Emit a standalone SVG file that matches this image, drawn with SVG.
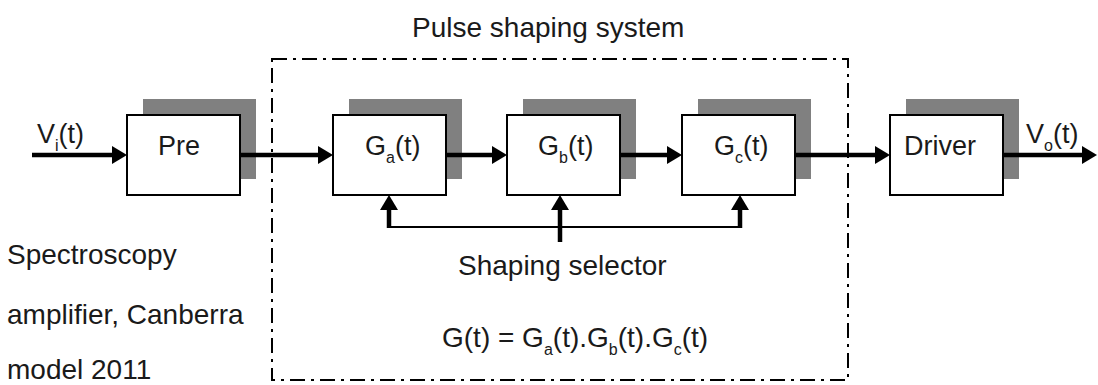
<svg xmlns="http://www.w3.org/2000/svg" width="1098" height="385" viewBox="0 0 1098 385">
<style>
text{font-family:"Liberation Sans",Arial,sans-serif;fill:#1a1a1a}
.lbl{font-size:27px}
.big{font-size:28px}
.sub{font-size:16px}
.box{fill:#fff;stroke:#000;stroke-width:2}
.sh{fill:#808080}
.ar{stroke:#000;stroke-width:4.5;fill:none}
.thin{stroke:#000;stroke-width:2;fill:none}
.dash{fill:none;stroke:#000;stroke-width:2;stroke-dasharray:15 6 3 6}
</style>
<defs>
<marker id="ah" viewBox="0 0 15 18" refX="1" refY="9" markerWidth="15" markerHeight="18" markerUnits="userSpaceOnUse" orient="auto">
<path d="M0,0 L15,9 L0,18 z" fill="#000"/>
</marker>
</defs>
<rect width="1098" height="385" fill="#fff"/>
<g id="system">
<rect class="dash" x="272" y="59" width="576" height="321"/>
<text class="big" x="412" y="37">Pulse shaping system</text>
</g>
<g id="pre">
<rect class="sh" x="143" y="99" width="113" height="80"/>
<rect class="box" x="127" y="115" width="113" height="80"/>
<text class="lbl" x="158" y="155">Pre</text>
</g>
<g id="ga">
<rect class="sh" x="349" y="99" width="113" height="80"/>
<rect class="box" x="333" y="115" width="113" height="80"/>
<text class="lbl" x="365" y="155">G<tspan class="sub" dy="8">a</tspan><tspan dy="-8">(t)</tspan></text>
</g>
<g id="gb">
<rect class="sh" x="523" y="99" width="113" height="80"/>
<rect class="box" x="507" y="115" width="113" height="80"/>
<text class="lbl" x="538" y="155">G<tspan class="sub" dy="8">b</tspan><tspan dy="-8">(t)</tspan></text>
</g>
<g id="gc">
<rect class="sh" x="698" y="99" width="113" height="80"/>
<rect class="box" x="682" y="115" width="113" height="80"/>
<text class="lbl" x="714" y="155">G<tspan class="sub" dy="8">c</tspan><tspan dy="-8">(t)</tspan></text>
</g>
<g id="driver">
<rect class="sh" x="906" y="99" width="113" height="80"/>
<rect class="box" x="890" y="115" width="113" height="80"/>
<text class="lbl" x="904" y="155">Driver</text>
</g>
<g id="connectors">
<line class="ar" x1="32" y1="155" x2="113" y2="155" marker-end="url(#ah)"/>
<line class="ar" x1="240" y1="155" x2="319" y2="155" marker-end="url(#ah)"/>
<line class="ar" x1="446" y1="155" x2="493" y2="155" marker-end="url(#ah)"/>
<line class="ar" x1="620" y1="155" x2="668" y2="155" marker-end="url(#ah)"/>
<line class="ar" x1="795" y1="155" x2="876" y2="155" marker-end="url(#ah)"/>
<line class="ar" x1="1003" y1="155" x2="1083" y2="155" marker-end="url(#ah)"/>
<line class="thin" x1="389" y1="227" x2="740" y2="227"/>
<line class="ar" x1="389" y1="228" x2="389" y2="209" marker-end="url(#ah)"/>
<line class="ar" x1="740" y1="228" x2="740" y2="209" marker-end="url(#ah)"/>
<line class="ar" x1="560" y1="242" x2="560" y2="209" marker-end="url(#ah)"/>
</g>
<g id="labels">
<text class="lbl" x="37" y="143">V<tspan class="sub" dy="8">i</tspan><tspan dy="-8">(t)</tspan></text>
<text class="lbl" x="1026" y="143">V<tspan class="sub" dy="8">o</tspan><tspan dy="-8">(t)</tspan></text>
<text class="big" x="458" y="275">Shaping selector</text>
<text class="big" x="442" y="347">G(t) = G<tspan class="sub" dy="8">a</tspan><tspan dy="-8">(t).G</tspan><tspan class="sub" dy="8">b</tspan><tspan dy="-8">(t).G</tspan><tspan class="sub" dy="8">c</tspan><tspan dy="-8">(t)</tspan></text>
<text class="big" x="7" y="264">Spectroscopy</text>
<text class="big" x="7" y="324">amplifier, Canberra</text>
<text class="big" x="7" y="379">model 2011</text>
</g>
</svg>
